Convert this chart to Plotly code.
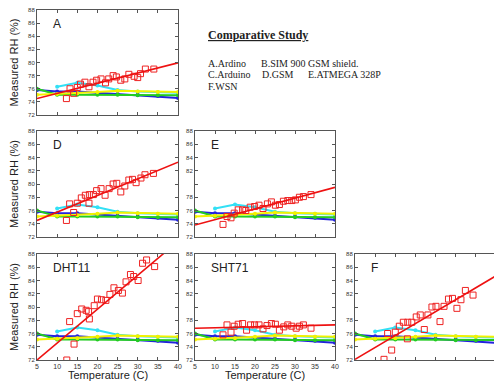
import plotly.graph_objects as go

W, H = 494, 383

# ---------------- data ----------------
temps_bg = [5, 10, 15, 20, 25, 30, 35, 40]
blue_rh = [75.8, 75.6, 75.6, 75.4, 75.2, 75.1, 74.9, 74.6]
cyan_rh = [None, 76.3, 76.9, 76.5, 75.8, 75.6, 75.5, 75.4]
green_rh = [76.0, 75.1, 75.1, 75.1, 75.1, 75.0, 75.0, 75.0]
yellow_rh = [75.1, 75.2, 75.3, 75.5, 75.7, 75.6, 75.5, 75.5]

panel_names = ["A", "D", "E", "DHT11", "SHT71", "F"]

red_t_A = [12.3, 13.2, 14.1, 15.0, 15.8, 16.9, 17.9, 18.9, 19.8, 20.9, 22.0, 22.8, 23.9, 24.7, 25.8, 26.8, 27.8, 29.1, 30.0, 30.7, 31.9, 34.0]
red_rh_A = [74.5, 76.0, 75.3, 76.2, 76.7, 77.0, 76.3, 77.0, 77.3, 77.5, 76.9, 77.5, 78.0, 77.8, 77.3, 77.5, 78.2, 77.9, 77.7, 78.3, 79.0, 79.0]

red_t_D = [12.3, 13.1, 14.1, 15.0, 16.0, 17.0, 17.9, 18.0, 19.0, 19.8, 20.9, 21.9, 22.9, 23.9, 24.8, 25.8, 26.8, 27.8, 28.7, 29.6, 30.8, 31.8, 33.9]
red_rh_D = [74.5, 77.0, 75.7, 77.1, 77.9, 78.3, 77.1, 78.4, 78.4, 79.0, 79.3, 78.3, 79.3, 80.0, 80.1, 78.8, 79.7, 80.6, 80.7, 80.2, 80.9, 81.4, 81.6]

red_t_E = [12.0, 13.0, 14.0, 14.8, 15.8, 16.9, 17.7, 18.8, 19.9, 21.0, 22.0, 23.1, 24.1, 25.1, 26.1, 27.1, 28.2, 29.2, 30.1, 31.1, 32.1, 34.0]
red_rh_E = [73.9, 75.1, 74.9, 75.6, 76.1, 76.1, 76.0, 76.5, 76.6, 76.8, 76.3, 77.0, 77.3, 76.8, 76.9, 77.4, 77.5, 77.5, 77.6, 78.0, 78.1, 78.4]

red_t_DHT = [12.4, 13.1, 14.2, 15.0, 16.1, 17.2, 18.0, 17.8, 19.2, 20.0, 21.0, 22.1, 23.1, 24.1, 25.2, 26.2, 27.1, 28.2, 29.0, 30.1, 31.2, 32.2, 34.2]
red_rh_DHT = [72.0, 77.8, 74.4, 79.0, 79.7, 79.5, 78.2, 79.3, 80.2, 81.2, 81.1, 81.0, 81.9, 82.9, 82.5, 82.1, 83.8, 84.9, 84.6, 84.0, 86.6, 87.1, 86.1]

red_t_SHT = [12.0, 13.0, 14.0, 14.8, 15.8, 16.9, 17.9, 18.9, 19.9, 21.0, 22.0, 23.0, 24.1, 25.1, 26.1, 27.2, 28.2, 29.2, 30.3, 31.1, 32.1, 34.0]
red_rh_SHT = [75.8, 77.3, 76.2, 77.1, 77.4, 77.5, 76.5, 77.3, 77.3, 77.3, 76.7, 77.2, 77.5, 77.4, 76.5, 77.0, 77.3, 77.1, 76.8, 77.1, 77.3, 76.8]

red_t_F = [12.2, 13.1, 14.1, 15.0, 16.0, 17.0, 18.0, 18.1, 19.1, 20.2, 21.2, 22.2, 23.1, 24.1, 25.1, 26.1, 27.1, 28.2, 29.2, 30.3, 31.3, 32.4, 34.3]
red_rh_F = [72.1, 76.0, 73.5, 76.2, 77.1, 77.7, 75.2, 77.7, 77.7, 78.5, 78.8, 76.6, 78.8, 80.0, 80.1, 77.8, 80.1, 81.2, 81.3, 79.8, 81.1, 82.5, 81.8]

fit_t = [5, 40]
fit_rh_A = [74.5, 79.95]
fit_rh_D = [74.5, 83.3]
fit_rh_E = [73.8, 79.5]
fit_rh_DHT = [72.0, 89.9]
fit_rh_SHT = [76.8, 77.3]
fit_rh_F = [72.1, 84.7]

red_t = [red_t_A, red_t_D, red_t_E, red_t_DHT, red_t_SHT, red_t_F]
red_rh = [red_rh_A, red_rh_D, red_rh_E, red_rh_DHT, red_rh_SHT, red_rh_F]
fit_rh = [fit_rh_A, fit_rh_D, fit_rh_E, fit_rh_DHT, fit_rh_SHT, fit_rh_F]

y_ticks = [72, 74, 76, 78, 80, 82, 84, 86, 88]
x_ticks = [5, 10, 15, 20, 25, 30, 35, 40]

# ---------------- layout geometry (pixels) ----------------
cols_px = {0: (37, 178), 1: (195, 335), 2: (355, 494)}
rows_px = {0: (10, 115), 1: (131, 237), 2: (254, 360)}
panel_pos = [(0, 0), (0, 1), (1, 1), (0, 2), (1, 2), (2, 2)]
hide80 = [False, False, True, False, True, True]

fig = go.Figure()
layout = dict(
    template="none",
    width=W, height=H, margin=dict(l=0, r=0, t=0, b=0, pad=0, autoexpand=False),
    paper_bgcolor="white", plot_bgcolor="white", showlegend=False,
    font=dict(family="Liberation Sans, Arial, sans-serif", color="#333"),
)

bg_series = [
    (cyan_rh, "#33e0f5"),
    (blue_rh, "#2222dd"),
    (green_rh, "#22cc22"),
    (yellow_rh, "#f2f200"),
]

annotations = []
for i, name in enumerate(panel_names):
    c, r = panel_pos[i]
    k = "" if i == 0 else str(i + 1)
    xa, ya = "x" + k, "y" + k
    for vals, col in bg_series:
        fig.add_trace(go.Scatter(x=temps_bg, y=vals, mode="lines+markers",
                                 line=dict(color=col, width=2),
                                 marker=dict(color=col, size=4),
                                 xaxis=xa, yaxis=ya, connectgaps=False))
    fig.add_trace(go.Scatter(x=red_t[i], y=red_rh[i], mode="markers",
                             marker=dict(symbol="square-open", color="#ee2222", size=6,
                                         line=dict(width=1, color="#ee2222")),
                             xaxis=xa, yaxis=ya))
    fig.add_trace(go.Scatter(x=fit_t, y=fit_rh[i], mode="lines",
                             line=dict(color="#ee1111", width=1.6),
                             xaxis=xa, yaxis=ya))

    x0, x1 = cols_px[c]
    y0, y1 = rows_px[r]
    xr = [5, 40] if c < 2 else [5, 5 + 35 * (x1 - x0) / 141.0]
    layout["xaxis" + k] = dict(
        domain=[x0 / W, x1 / W], range=xr, anchor=ya, automargin=False,
        showline=True, linecolor="#555", linewidth=1, mirror="ticks",
        ticks="inside", ticklen=3, tickcolor="#555", tickvals=x_ticks,
        showticklabels=(r == 2 and c < 2), tickfont=dict(size=7, color="#333"),
        showgrid=False, zeroline=False, fixedrange=True,
    )
    ytext = [("" if (v == 80 and hide80[i]) else str(v)) for v in y_ticks]
    layout["yaxis" + k] = dict(
        domain=[1 - y1 / H, 1 - y0 / H], range=[72, 88], anchor=xa, automargin=False,
        showline=True, linecolor="#555", linewidth=1,
        mirror=("ticks" if c < 2 else False),
        ticks="inside", ticklen=3, tickcolor="#555",
        tickvals=y_ticks, ticktext=ytext, tickfont=dict(size=6, color="#333"),
        showgrid=False, zeroline=False, fixedrange=True,
    )
    annotations.append(dict(text=name, xref=xa + " domain", yref=ya + " domain",
                            x=0.1, y=0.87, xanchor="left", yanchor="middle",
                            showarrow=False, font=dict(size=12, color="#222")))
    if c == 0:
        annotations.append(dict(text="Measured RH (%)", xref="paper", yref="paper",
                                x=14 / W, y=1 - (y0 + y1) / 2 / H, textangle=-90,
                                xanchor="center", yanchor="middle", showarrow=False,
                                font=dict(size=11, color="#222")))
    if r == 2 and c < 2:
        annotations.append(dict(text="Temperature (C)", xref="paper", yref="paper",
                                x=(x0 + x1) / 2 / W, y=1 - 375 / H,
                                xanchor="center", yanchor="middle", showarrow=False,
                                font=dict(size=11, color="#222")))

serif = "Liberation Serif, Times New Roman, serif"
text_items = [
    ("<b><u>Comparative Study</u></b>", 206, 35, 12),
    ("A.Ardino", 206, 63, 10),
    ("B.SIM 900 GSM shield.", 259, 63, 10),
    ("C.Arduino", 206, 74.5, 10),
    ("D.GSM", 260, 74.5, 10),
    ("E.ATMEGA 328P", 306, 74.5, 10),
    ("F.WSN", 206, 86, 10),
]
for txt, px, py, fs in text_items:
    annotations.append(dict(text=txt, xref="paper", yref="paper", x=px / W, y=1 - py / H,
                            xanchor="left", yanchor="middle", showarrow=False,
                            font=dict(family=serif, size=fs, color="#222")))

layout["annotations"] = annotations
fig.update_layout(**layout)
fig.write_html("out.html", config={"displayModeBar": False},
               post_script="document.body.style.margin='0';document.body.style.overflow='hidden';")
